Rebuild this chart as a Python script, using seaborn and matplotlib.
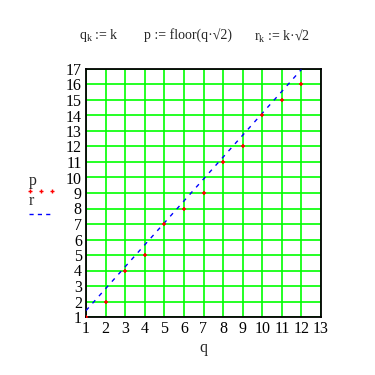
import matplotlib
matplotlib.use("Agg")
import matplotlib.pyplot as plt
import seaborn as sns
import numpy as np
import pandas as pd

# data
q_vals = [1, 2, 3, 4, 5, 6, 7, 8, 9, 10, 11, 12]
p_vals = [1, 2, 4, 5, 7, 8, 9, 11, 12, 14, 15, 16]
k_vals = [1, 2, 3, 4, 5, 6, 7, 8, 9, 10, 11, 12]
r_vals = [1.414, 2.828, 4.243, 5.657, 7.071, 8.485, 9.899, 11.314, 12.728, 14.142, 15.556, 16.971]
x_ticks = list(range(1, 14))
y_ticks = list(range(1, 18))

sns.set_style("white")
plt.rcParams['font.family'] = ['Liberation Serif', 'DejaVu Serif']
plt.rcParams['mathtext.fontset'] = 'custom'
plt.rcParams['mathtext.rm'] = 'Liberation Serif'
plt.rcParams['mathtext.it'] = 'Liberation Serif'

fig = plt.figure(figsize=(3.75, 3.75), dpi=100)
ax = fig.add_axes([86/375, 1-317/375, 235/375, 248/375])

df_p = pd.DataFrame({"q": q_vals, "p": p_vals})
df_r = pd.DataFrame({"k": k_vals, "r": r_vals})

sns.lineplot(data=df_r, x="k", y="r", ax=ax, color="#0000ff", lw=1.0,
             linestyle=(0, (3, 4)), zorder=3)
sns.scatterplot(data=df_p, x="q", y="p", ax=ax, color="#ff0000", marker="+",
                s=9, linewidth=1.1, zorder=4)

ax.set_xlim(1, 13)
ax.set_ylim(1, 17)
ax.set_xticks(x_ticks)
ax.set_yticks(y_ticks)
ax.grid(True, color="#00ff00", lw=1.2)
ax.set_axisbelow(True)
for s in ax.spines.values():
    s.set_color("black")
    s.set_linewidth(1.3)
ax.tick_params(length=0, labelsize=11.5, pad=3, colors="black")
ax.set_xlabel("q", fontsize=11.5, labelpad=2)
ax.set_ylabel("")

# header formulas
fs = 10
fig.text(79/375, 1-36/375, r"$\mathrm{q_k}$ := k", fontsize=fs, va="center")
fig.text(144/375, 1-36/375, "p := floor(q·√2)", fontsize=fs, va="center")
fig.text(254/375, 1-36/375, r"$\mathrm{r_k}$ := k·√2", fontsize=fs, va="center")

# legend at left
fig.text(29/375, 1-181/375, "p", fontsize=11.5, va="center")
for xx in (30, 41, 52):
    fig.lines.append(plt.Line2D([xx/375], [1-191/375], transform=fig.transFigure,
                                marker="+", color="#ff0000", ms=3, mew=1.0, ls="none"))
fig.text(29/375, 1-201/375, "r", fontsize=11.5, va="center")
fig.lines.append(plt.Line2D([29/375, 54/375], [1-214/375, 1-214/375], transform=fig.transFigure,
                            color="#0000ff", lw=1.0, linestyle=(0, (3, 3))))

fig.savefig("out.png", dpi=100)
